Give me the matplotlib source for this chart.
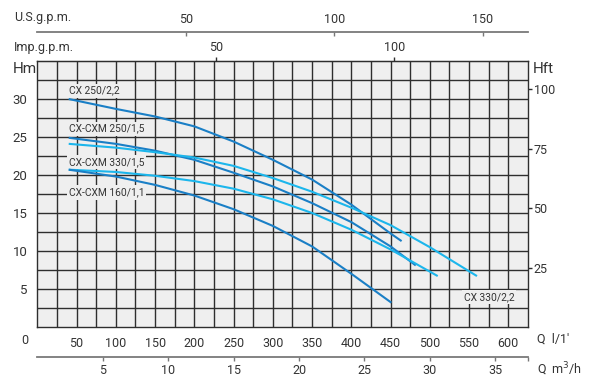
import matplotlib
matplotlib.use("Agg")
import matplotlib.pyplot as plt

# ---- data (Q in l/min, H in m) ----
q_a = [40, 100, 150, 200, 250, 300, 350, 400, 450, 464]
h_a = [30.0, 28.7, 27.7, 26.4, 24.4, 22.0, 19.4, 16.1, 12.3, 11.3]

q_b = [40, 100, 150, 200, 250, 300, 350, 400, 450, 482]
h_b = [24.9, 24.1, 23.2, 22.0, 20.3, 18.5, 16.3, 13.8, 10.6, 8.1]

q_c = [40, 100, 150, 200, 250, 300, 350, 400, 450, 500, 560]
h_c = [24.1, 23.6, 23.0, 22.3, 21.2, 19.6, 17.8, 15.7, 13.4, 10.5, 6.7]

q_d = [40, 100, 150, 200, 250, 300, 350, 400, 450, 510]
h_d = [20.7, 20.4, 19.9, 19.2, 18.2, 16.8, 15.0, 12.8, 10.2, 6.7]

q_e = [40, 100, 150, 200, 250, 300, 350, 400, 451]
h_e = [20.7, 19.8, 18.7, 17.3, 15.5, 13.3, 10.6, 7.0, 3.2]

names = ["CX 250/2,2", "CX-CXM 250/1,5", "CX 330/2,2", "CX-CXM 330/1,5", "CX-CXM 160/1,1"]

x_ticks = [50, 100, 150, 200, 250, 300, 350, 400, 450, 500, 550, 600]
y_ticks = [5, 10, 15, 20, 25, 30]
hft_ticks = [25, 50, 75, 100]
usgpm_ticks = [50, 100, 150]
impgpm_ticks = [50, 100]
m3h_ticks = [5, 10, 15, 20, 25, 30, 35]

DARK = "#1a7fc6"
LIGHT = "#1cb6ec"
TXT = "#333333"
GRID = "#2e2e2e"

plt.rcParams['font.family'] = ['Roboto', 'DejaVu Sans']

fig = plt.figure(figsize=(5.89, 3.87), dpi=100)
W, Hpx = 589, 387
L, R, T, B = 37.3, 528, 61, 327
ax = fig.add_axes([L / W, 1 - B / Hpx, (R - L) / W, (B - T) / Hpx])
ax.set_facecolor("#efefef")
ax.set_xlim(0, 625)
ax.set_ylim(0, 35)
ax.set_axisbelow(True)

ax.set_xticks(x_ticks)
ax.set_xticks([v * 25 for v in range(1, 25)], minor=True)
ax.set_yticks(y_ticks)
ax.set_yticks([v * 2.5 for v in range(1, 14)], minor=True)
ax.grid(which="both", color=GRID, linewidth=1.0)
ax.tick_params(which="both", length=0)
ax.tick_params(axis="x", labelsize=9, pad=7, labelcolor=TXT)
ax.tick_params(axis="y", labelsize=9.5, pad=7, labelcolor=TXT)
for s in ax.spines.values():
    s.set_color(GRID)
    s.set_linewidth(1.0)

series = [(q_a, h_a, DARK), (q_b, h_b, DARK), (q_c, h_c, LIGHT), (q_d, h_d, LIGHT), (q_e, h_e, DARK)]
for q, h, c in series:
    ax.plot(q, h, color=c, linewidth=1.5, zorder=3, solid_capstyle="butt", solid_joinstyle="round")

bbox = dict(facecolor="#efefef", edgecolor="none", pad=1.5)
label_pos = [(40, 31.1), (40, 26.1), (543, 3.9), (40, 21.7), (40, 17.7)]
for name, (x, y) in zip(names, label_pos):
    ax.text(x, y, name, fontsize=7.4, color=TXT, va="center", ha="left", bbox=bbox, zorder=2)

# right axis in feet
ax2 = ax.twinx()
ax2.set_ylim(0, 112)
ax2.set_yticks(hft_ticks)
ax2.tick_params(axis="y", direction="out", length=3, width=1, color=GRID, pad=1, labelsize=9, labelcolor=TXT)
for s in ax2.spines.values():
    s.set_visible(False)

# secondary flow axes
def lpm_to_us(x):
    return x / 3.785
def us_to_lpm(x):
    return x * 3.785
def lpm_to_imp(x):
    return x / 4.546
def imp_to_lpm(x):
    return x * 4.546
def lpm_to_m3h(x):
    return x * 0.06
def m3h_to_lpm(x):
    return x / 0.06

ah = B - T
sec_us = ax.secondary_xaxis((B - 31.7) / ah, functions=(lpm_to_us, us_to_lpm))
sec_us.set_xticks(usgpm_ticks)
sec_us.tick_params(direction="in", length=3, width=1, color="#777777", labelsize=9, labelcolor=TXT, pad=4)
sec_us.spines["top"].set_color("#7a7a7a")
sec_us.spines["top"].set_linewidth(1.3)

sec_imp = ax.secondary_xaxis("top", functions=(lpm_to_imp, imp_to_lpm))
sec_imp.set_xticks(impgpm_ticks)
sec_imp.tick_params(direction="out", length=3, width=1, color=GRID, labelsize=9, labelcolor=TXT, pad=2)
sec_imp.spines["top"].set_color(GRID)

sec_m3 = ax.secondary_xaxis((B - 357.3) / ah, functions=(lpm_to_m3h, m3h_to_lpm))
sec_m3.set_xticks(m3h_ticks)
sec_m3.set_xticks([37.5], minor=True)
sec_m3.tick_params(which="both", direction="out", length=3, width=1, color="#777777", labelsize=9, labelcolor=TXT, pad=2)
sec_m3.spines["bottom"].set_color("#7a7a7a")
sec_m3.spines["bottom"].set_linewidth(1.3)

def ftxt(px, py, s, size=9, ha="left"):
    fig.text(px / W, 1 - py / Hpx, s, fontsize=size, color=TXT, ha=ha, va="center")

ftxt(14, 18, "U.S.g.p.m.")
ftxt(14, 47, "Imp.g.p.m.")
ftxt(13, 69, "Hm", size=11)
ftxt(533, 69, "Hft", size=11)
ftxt(25, 340, "0", ha="center")
ftxt(537, 339, "Q  l/1'")
ftxt(537, 369, "Q  m$^3$/h")

fig.savefig("out.png", dpi=100)
